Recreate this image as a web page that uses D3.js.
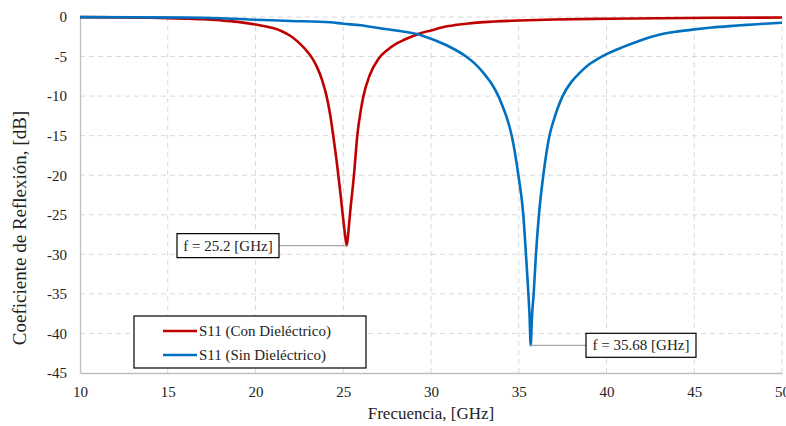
<!DOCTYPE html>
<html><head><meta charset="utf-8">
<script src="https://cdn.jsdelivr.net/npm/d3@7/dist/d3.min.js"></script>
<style>
html,body{margin:0;padding:0;background:#fff;}
svg text{font-family:"Liberation Serif","Times New Roman",serif;fill:#222;}
</style></head>
<body><svg id="c" width="786" height="426"></svg>
<script>
const xTicks = [10,15,20,25,30,35,40,45,50];
const yTicks = [0,-5,-10,-15,-20,-25,-30,-35,-40,-45];

const redF = [10,12,14,16,17,18,19,20,21,21.5,22,22.5,23,23.2,23.5,23.8,24.05,24.25,24.43,24.6,24.72,24.85,24.97,25.1,25.2,25.3,25.38,25.61,25.8,26.0,26.15,26.5,27,27.5,28,28.5,29.2,30,31,32,33,35,37,40,43,46,50];
const redV = [-0.02,-0.05,-0.1,-0.2,-0.28,-0.42,-0.62,-0.95,-1.4,-1.8,-2.4,-3.3,-4.5,-5.1,-6.3,-8.0,-10,-12.3,-15,-17.8,-20,-22.5,-25,-27.5,-28.9,-27,-25,-20,-15,-11.8,-10,-7.4,-5.3,-4.2,-3.4,-2.85,-2.2,-1.7,-1.15,-0.85,-0.65,-0.45,-0.32,-0.22,-0.15,-0.1,-0.07];

const blueF = [10,13,16,18,20,22,24.25,25,26,27.1,28,29.2,30,31,32,32.5,33,33.5,33.84,34.1,34.3,34.6,34.98,35.26,35.41,35.55,35.62,35.68,35.75,35.85,35.98,36.15,36.4,36.75,37.0,37.5,38,38.5,39,39.5,40,41,42,43,44,45,46,47,48,49,50];
const blueV = [-0.02,-0.04,-0.06,-0.15,-0.35,-0.5,-0.67,-0.85,-1.05,-1.43,-1.7,-2.15,-2.75,-3.7,-5,-5.9,-7.1,-8.6,-10,-11.4,-12.6,-15,-20,-25,-30,-35,-38,-41.5,-38,-35,-30,-25,-20,-15,-13,-10,-8.2,-7.0,-6.0,-5.3,-4.7,-3.75,-2.9,-2.25,-1.85,-1.56,-1.33,-1.15,-1.0,-0.85,-0.72];

const seriesNames = ["S11 (Con Dieléctrico)","S11 (Sin Dieléctrico)"];
const colors = ["#C00000","#0070C0"];
const annotF = [25.2, 35.68];
const annotV = [-28.9, -41.5];
const annotLabels = ["f = 25.2 [GHz]","f = 35.68 [GHz]"];

const svg = d3.select("#c");
const x = d3.scaleLinear().domain([10,50]).range([80,782]);
const y = d3.scaleLinear().domain([0,-45]).range([17,373]);

// grid
svg.append("g").selectAll("line").data(xTicks.filter(d=>d>10)).join("line")
  .attr("x1",d=>x(d)).attr("x2",d=>x(d)).attr("y1",y(0)).attr("y2",y(-45))
  .attr("stroke","#d9d9d9").attr("stroke-width",1).attr("stroke-dasharray","5,4");
svg.append("g").selectAll("line").data(yTicks.filter(d=>d>-45)).join("line")
  .attr("x1",x(10)).attr("x2",x(50)).attr("y1",d=>y(d)).attr("y2",d=>y(d))
  .attr("stroke","#d9d9d9").attr("stroke-width",1).attr("stroke-dasharray","5,4");

// axes
const ax = svg.append("g").attr("transform",`translate(0,${y(-45)})`)
  .call(d3.axisBottom(x).tickValues(xTicks).tickSize(0).tickPadding(13));
ax.select(".domain").attr("stroke","#bfbfbf").attr("stroke-width",1.3);
ax.selectAll("text").attr("font-size","15px").attr("font-family","Liberation Serif").attr("fill","#222");
const ay = svg.append("g").attr("transform",`translate(${x(10)},0)`)
  .call(d3.axisLeft(y).tickValues(yTicks).tickSize(0).tickPadding(13).tickFormat(d=>d===0?"0":String(d)));
ay.select(".domain").attr("stroke","#bfbfbf").attr("stroke-width",1.3);
ay.selectAll("text").attr("font-size","15px").attr("font-family","Liberation Serif").attr("fill","#222");

// curves
const line = d3.line().x(d=>x(d[0])).y(d=>y(d[1])).curve(d3.curveMonotoneX);
const data = [d3.zip(redF,redV), d3.zip(blueF,blueV)];
data.forEach((dd,i)=>{
  svg.append("path").datum(dd).attr("d",line).attr("fill","none")
    .attr("stroke",colors[i]).attr("stroke-width",2.6).attr("stroke-linejoin","round");
});

// annotations
const boxes = [{x:177,w:102},{x:586,w:110}];
annotF.forEach((f,i)=>{
  const px=x(f), py=y(annotV[i]);
  const b=boxes[i];
  const bx = b.x;
  const lx = i===0 ? bx+b.w : bx;
  svg.append("line").attr("x1",lx).attr("x2",px).attr("y1",py).attr("y2",py)
    .attr("stroke","#a6a6a6").attr("stroke-width",1.2);
  svg.append("rect").attr("x",bx).attr("y",py-12).attr("width",b.w).attr("height",24)
    .attr("fill","#fff").attr("stroke","#000").attr("stroke-width",1.2);
  svg.append("text").attr("x",bx+b.w/2).attr("y",py+5).attr("text-anchor","middle")
    .attr("font-size","15px").text(annotLabels[i]);
});

// legend
const lg = svg.append("g");
lg.append("rect").attr("x",134).attr("y",316).attr("width",232).attr("height",52)
  .attr("fill","#fff").attr("stroke","#000").attr("stroke-width",1.2);
seriesNames.forEach((n,i)=>{
  const ly = 331 + i*24;
  lg.append("line").attr("x1",163).attr("x2",197).attr("y1",ly).attr("y2",ly)
    .attr("stroke",colors[i]).attr("stroke-width",2.6);
  lg.append("text").attr("x",199).attr("y",ly+5).attr("font-size","15px").text(n);
});

// titles
svg.append("text").attr("x",431).attr("y",419).attr("text-anchor","middle")
  .attr("font-size","17px").text("Frecuencia, [GHz]");
svg.append("text").attr("transform","translate(26,228) rotate(-90)").attr("text-anchor","middle")
  .attr("font-size","19px").text("Coeficiente de Reflexión, [dB]");
</script></body></html>
